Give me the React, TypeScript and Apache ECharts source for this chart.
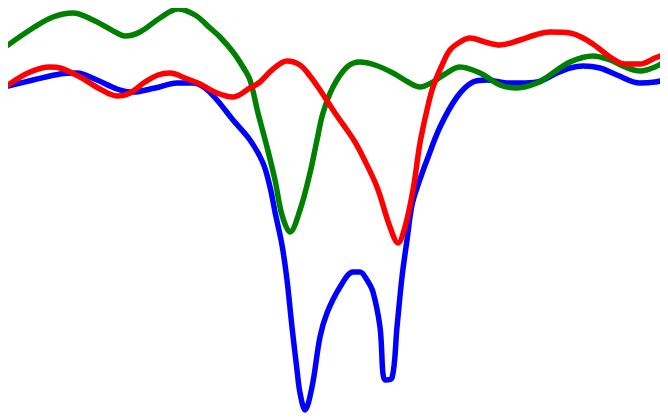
import React, { useEffect, useRef } from "react";
import * as echarts from "echarts";

// Each point is [x, y] (y axis is inverted: larger y lower on the chart)
const blueData: [number, number][] = [
  [8, 86], [33, 80], [60, 74], [77, 73], [97, 80], [117, 89], [133, 92], [155, 88], [177, 83],
  [193, 83], [205, 88], [217, 100], [233, 120], [250, 140], [263, 163], [270, 187], [275, 212],
  [282, 245], [287, 280], [292, 327], [297, 370], [300, 393], [305, 410], [312, 387], [320, 337], [327, 313],
  [340, 287], [353, 272], [360, 272], [367, 280], [373, 292], [380, 327], [385, 380], [392, 378], [397, 327],
  [402, 277], [407, 240], [412, 205], [418, 185], [427, 160], [440, 127], [457, 97], [473, 82],
  [487, 80], [507, 83], [520, 83], [537, 82], [557, 73], [570, 68], [583, 66], [600, 68], [617, 75],
  [640, 83], [655, 82], [668, 79],
];

const greenData: [number, number][] = [
  [8, 45], [33, 28], [53, 17], [73, 13], [93, 20], [117, 33], [125, 36], [140, 32], [160, 18], [178, 9],
  [195, 15], [210, 28], [220, 37], [233, 52], [243, 67], [250, 80], [258, 113], [267, 147], [275, 180],
  [282, 215], [290, 232], [300, 210], [310, 173], [317, 140], [323, 113], [333, 87], [347, 67], [360, 62],
  [375, 65], [393, 73], [408, 82], [420, 87], [433, 82], [445, 74], [460, 67], [480, 73],
  [500, 85], [517, 88], [537, 83], [550, 75], [570, 62], [593, 56], [610, 60], [625, 67],
  [640, 71], [655, 67], [668, 59],
];

const redData: [number, number][] = [
  [8, 85], [30, 72], [50, 67], [60, 68], [80, 77], [100, 89], [117, 96], [130, 93], [145, 82],
  [158, 75], [170, 73], [185, 78], [200, 84], [217, 93], [233, 97], [250, 88], [260, 82], [272, 70],
  [287, 61], [300, 65], [310, 76], [320, 90], [335, 113], [347, 130], [355, 142], [363, 157], [377, 187],
  [390, 227], [398, 243], [405, 227], [413, 190], [420, 143], [427, 110], [433, 87], [443, 63], [450, 50],
  [460, 42], [470, 38], [485, 42], [500, 45], [520, 40], [535, 35], [550, 32], [570, 33], [585, 39],
  [597, 47], [610, 57], [625, 64], [640, 64], [655, 58], [668, 53],
];

const seriesNames = ["Blue", "Green", "Red"];
const seriesColors = ["#0000ff", "#008000", "#ff0000"];

export default function App() {
  const ref = useRef<HTMLDivElement>(null);
  useEffect(() => {
    if (!ref.current) return;
    const chart = echarts.init(ref.current, null, { renderer: "svg" });
    const datasets = [blueData, greenData, redData];
    chart.setOption({
      animation: false,
      grid: { left: 0, right: 0, top: 0, bottom: 0 },
      xAxis: { type: "value", min: 8, max: 668, show: false },
      yAxis: { type: "value", min: 8, max: 420, inverse: true, show: false },
      series: datasets.map((d, i) => ({
        name: seriesNames[i],
        type: "line",
        data: d,
        smooth: 0.35,
        showSymbol: false,
        symbol: "none",
        clip: false,
        lineStyle: { color: seriesColors[i], width: 5.5, cap: "round", join: "round" },
        z: i + 2,
      })),
    });
    return () => chart.dispose();
  }, []);
  return <div ref={ref} style={{ width: 660, height: 412 }} />;
}
